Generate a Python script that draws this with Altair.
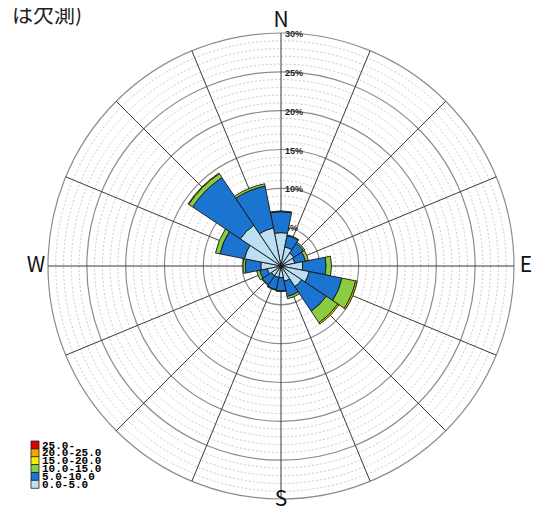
import altair as alt
import pandas as pd
import numpy as np

# ---- data (frequency %, by direction and wind-speed class) ----
directions = ["N", "NNE", "NE", "ENE", "E", "ESE", "SE", "SSE",
              "S", "SSW", "SW", "WSW", "W", "WNW", "NW", "NNW"]
freq_0_5 = [4.3, 2.5, 2.0, 1.8, 2.8, 3.7, 3.2, 2.0, 1.5, 1.5, 1.5, 1.8, 2.6, 4.8, 6.3, 5.0]
freq_5_10 = [2.7, 1.5, 1.5, 1.4, 3.0, 4.3, 3.8, 2.0, 1.7, 1.6, 1.4, 1.0, 2.0, 3.2, 7.4, 5.5]
freq_10_15 = [0.1, 0.1, 0.2, 0.4, 0.7, 1.8, 1.8, 0.3, 0.1, 0.1, 0.1, 0.4, 0.3, 0.6, 0.6, 0.3]
freq_15_20 = [0.0, 0.0, 0.0, 0.0, 0.0, 0.2, 0.2, 0.0, 0.0, 0.0, 0.0, 0.0, 0.0, 0.0, 0.1, 0.0]
freq_20_25 = [0.0] * 16
freq_25_up = [0.0] * 16

speed_classes = ["0.0-5.0", "5.0-10.0", "10.0-15.0", "15.0-20.0", "20.0-25.0", "25.0-"]
class_colors = ["#bcdff4", "#1b74d0", "#8ccc40", "#f2f200", "#f8a400", "#e00000"]
legend_order = ["25.0-", "20.0-25.0", "15.0-20.0", "10.0-15.0", "5.0-10.0", "0.0-5.0"]

ring_values = list(range(1, 31))
ring_label_values = [5, 10, 15, 20, 25, 30]
compass_labels = ["N", "E", "S", "W"]
compass_angles = [0, 90, 180, 270]
title_text = "は欠測)"

# ---- layout ----
W, H = 524, 503
CX, CY = 273, 258          # centre of the rose (pixels inside the chart)
RMAX = 30
RPX = 233                  # pixels for 30 %
PX = RPX / RMAX
SECTOR = 360 / len(directions)
LABEL_R = 245 / PX
LABEL_R_S = 234 / PX

# ---- tables built from the arrays ----
all_classes = [freq_0_5, freq_5_10, freq_10_15, freq_15_20, freq_20_25, freq_25_up]
rows = []
for i, d in enumerate(directions):
    cum = 0.0
    for cls, arr in zip(speed_classes, all_classes):
        v = arr[i]
        if v > 0:
            rows.append({"dir": d, "idx": i, "cls": cls, "r0": cum, "r1": cum + v})
            cum += v
bars_df = pd.DataFrame(rows)
bars_df["t0"] = bars_df["idx"] * SECTOR - SECTOR / 2
bars_df["t1"] = bars_df["idx"] * SECTOR + SECTOR / 2

rings_df = pd.DataFrame({"r": ring_values})
rings_df["major"] = rings_df["r"] % 5 == 0
spokes_df = pd.DataFrame({"deg": [i * SECTOR for i in range(len(directions))]})
rlab_df = pd.DataFrame({"r": ring_label_values, "label": [f"{v}%" for v in ring_label_values]})
comp_df = pd.DataFrame({"label": compass_labels, "deg": compass_angles})
comp_df["lr"] = [LABEL_R_S if l == "S" else LABEL_R for l in compass_labels]
leg_df = pd.DataFrame({"cls": legend_order})

xs = alt.Scale(domain=[-CX / PX, (W - CX) / PX], nice=False, zero=False)
ys = alt.Scale(domain=[-(H - CY) / PX, CY / PX], nice=False, zero=False)
rs = alt.Scale(type="linear", domain=[0, RMAX], range=[0, RPX], zero=True, nice=False)
ts = alt.Scale(domain=[0, 360], range=[0, 2 * np.pi])
cs = alt.Scale(domain=legend_order,
               range=[class_colors[speed_classes.index(c)] for c in legend_order])

ring_base = alt.Chart(rings_df).transform_calculate(
    z="0", s=f"pow(2*datum.r*{PX}, 2)")
ring_enc = dict(x=alt.X("z:Q", scale=xs, axis=None), y=alt.Y("z:Q", scale=ys, axis=None),
                size=alt.Size("s:Q", scale=None, legend=None))

minor = ring_base.transform_filter("!datum.major").mark_point(
    shape="circle", filled=False, stroke="#bdbdbd", strokeWidth=0.8, strokeDash=[2, 2],
    opacity=1).encode(**ring_enc)

major = ring_base.transform_filter("datum.major").mark_point(
    shape="circle", filled=False, stroke="#8c8c8c", strokeWidth=1.2,
    opacity=1).encode(**ring_enc)

spokes = alt.Chart(spokes_df).transform_calculate(
    sx=f"{RMAX}*sin(datum.deg*PI/180)", sy=f"{RMAX}*cos(datum.deg*PI/180)", z="0"
).mark_rule(color="#3a3a3a", strokeWidth=1).encode(
    x=alt.X("sx:Q", scale=xs, axis=None), y=alt.Y("sy:Q", scale=ys, axis=None),
    x2="z:Q", y2="z:Q")

rlabels = alt.Chart(rlab_df).transform_calculate(z="0").mark_text(
    align="left", baseline="middle", dx=4, dy=1, font="Liberation Sans", fontWeight="bold",
    fontSize=9, color="#222222"
).encode(x=alt.X("z:Q", scale=xs, axis=None), y=alt.Y("r:Q", scale=ys, axis=None),
         text="label:N")

bars = alt.Chart(bars_df).mark_arc(stroke="#161616", strokeWidth=0.9).encode(
    theta=alt.Theta("t0:Q", scale=ts, stack=None), theta2="t1:Q",
    radius=alt.Radius("r0:Q", scale=rs), radius2="r1:Q",
    x=alt.value(CX), y=alt.value(CY),
    color=alt.Color("cls:N", scale=cs, legend=None))

compass = alt.Chart(comp_df).transform_calculate(
    lx="datum.lr*sin(datum.deg*PI/180)", ly="datum.lr*cos(datum.deg*PI/180)"
).mark_text(align="center", baseline="middle", font="Noto Sans CJK JP", fontSize=21,
            color="#111111").encode(
    x=alt.X("lx:Q", scale=xs, axis=None), y=alt.Y("ly:Q", scale=ys, axis=None), text="label:N")

title = alt.Chart(pd.DataFrame({"t": [title_text]})).mark_text(
    align="right", baseline="top", font="Noto Sans CJK JP", fontSize=21, color="#222222"
).encode(x=alt.value(74), y=alt.value(-3), text="t:N")

main = alt.layer(minor, major, spokes, rlabels, bars, compass, title)

ly = alt.Y("cls:N", axis=None,
           scale=alt.Scale(type="point", domain=legend_order, range=[437, 476.3], padding=0))
leg_sq = alt.Chart(leg_df).mark_square(size=64, stroke="#202020", strokeWidth=0.8,
                                        opacity=1).encode(
    x=alt.value(27), y=ly, color=alt.Color("cls:N", scale=cs, legend=None))
leg_tx = alt.Chart(leg_df).mark_text(
    align="left", baseline="middle", dy=0.5, font="Liberation Mono", fontWeight="bold",
    fontSize=11, color="#000000").encode(x=alt.value(34), y=ly, text="cls:N")

chart = alt.layer(main, leg_sq, leg_tx).resolve_scale(y="independent").properties(
    width=W, height=H, padding=0, autosize=alt.AutoSizeParams(type="none")
).configure_view(stroke=None)

chart.save("out.html", embed_options={"renderer": "svg", "actions": False})
